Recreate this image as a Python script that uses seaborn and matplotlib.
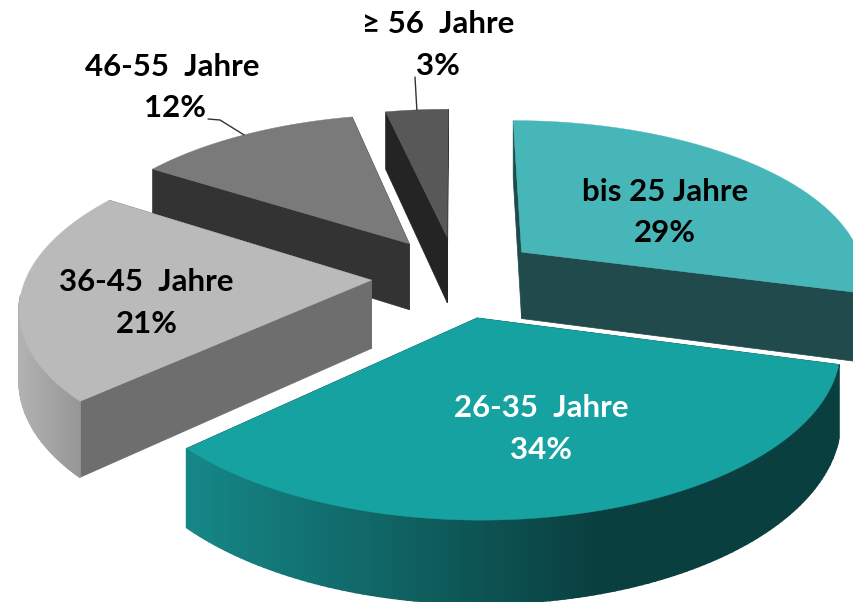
# Exploded 3D pie of age groups, seaborn theme with the projection done by hand.

import numpy as np
import matplotlib
matplotlib.use('Agg')
import matplotlib.pyplot as plt
import matplotlib.colors as mcolors
import seaborn as sns

categories = ['bis 25 Jahre', '26-35  Jahre', '36-45  Jahre', '46-55  Jahre', '≥ 56  Jahre']
# shares, the printed labels round them
values = [29.2, 33.8, 21.1, 12.4, 3.45]
top_colors = ['#47B6B9', '#17A2A2', '#BABABA', '#7A7A7A', '#585858']
side_colors = ['#204A4B', '#0B4444', '#6E6E6E', '#333333', '#242424']
wall_left = ['#204A4B', '#168888', '#B2B2B2', '#333333', '#242424']
wall_right = ['#204A4B', '#0A3F3F', '#8A8A8A', '#333333', '#242424']
text_colors = ['black', 'white', 'black', 'black', 'black']
label_xy = [(665, 192), (541, 408), (146, 282), (172, 67), (438, 24)]
pct_xy = [(665, 233), (541, 450), (147, 324), (175, 108), (438, 66)]

# projection settings, in pixels
CX, CY = 456, 276.5
RX, RY = 345, 158
PERSP = 0.15
HEIGHT = 68
EXPLODE_X = 0.245
EXPLODE_Y = 0.26
DRAW_ORDER = [4, 3, 0, 2, 1]


def project(x, y, z=0.0):
    w = 1 / (1 - PERSP * y)
    return CX + RX * x * w, CY + RY * y * w + HEIGHT * z * w


def slice_point(theta, mid, r=1.0, z=0.0):
    # theta runs clockwise from 12 o'clock, y points at the viewer
    x = r * np.sin(theta) + EXPLODE_X * np.sin(mid)
    y = -r * np.cos(theta) - EXPLODE_Y * np.cos(mid)
    return project(x, y, z)


def draw_slice(ax, i, start, end):
    mid = (start + end) / 2
    thetas = np.linspace(start, end, 120)
    top_x, top_y = slice_point(thetas, mid)
    low_x, low_y = slice_point(thetas, mid, z=1.0)
    apex = slice_point(0.0, mid, r=0.0)
    apex_low = slice_point(0.0, mid, r=0.0, z=1.0)

    # radial faces first, the wall and the top cover whatever should be hidden
    for k in (0, -1):
        ax.fill([apex[0], top_x[k], low_x[k], apex_low[0]],
                [apex[1], top_y[k], low_y[k], apex_low[1]],
                color=side_colors[i], lw=0.5)

    # outer wall, shaded left to right
    left = np.array(mcolors.to_rgb(wall_left[i]))
    right = np.array(mcolors.to_rgb(wall_right[i]))
    x0, x1 = top_x.min(), min(top_x.max(), 600)
    for k in range(len(thetas) - 1):
        if np.cos(thetas[k]) > -0.1 and np.cos(thetas[k + 1]) > -0.1:
            continue
        t = np.clip((top_x[k] - x0) / (x1 - x0), 0, 1)
        ax.fill([top_x[k], top_x[k + 1], low_x[k + 1], low_x[k]],
                [top_y[k], top_y[k + 1], low_y[k + 1], low_y[k]],
                color=left + (right - left) * t, lw=1.2)

    ax.fill(np.r_[apex[0], top_x], np.r_[apex[1], top_y], color=top_colors[i], lw=0.3)


sns.set_theme(style='white')
plt.rcParams['font.family'] = ['Lato', 'DejaVu Sans']

fig = plt.figure(figsize=(8.54, 6.02), dpi=100)
ax = fig.add_axes([0, 0, 1, 1])
ax.set_xlim(0, 854)
ax.set_ylim(602, 0)
ax.axis('off')

edges = np.r_[0, np.cumsum(values)] / np.sum(values) * 2 * np.pi
for i in DRAW_ORDER:
    draw_slice(ax, i, edges[i], edges[i + 1])

# leader lines for the two small slices
mid4 = (edges[3] + edges[4]) / 2
end4 = slice_point(mid4, mid4)
ax.plot([208, 220, end4[0]], [119, 120, end4[1]], color='#333333', lw=1)
mid5 = (edges[4] + edges[5]) / 2
end5 = slice_point(mid5, mid5)
ax.plot([415, end5[0]], [77, end5[1]], color='#333333', lw=1)

for i, name in enumerate(categories):
    ax.text(*label_xy[i], name, ha='center', va='center', fontsize=22.5,
            fontweight='bold', color=text_colors[i])
    ax.text(*pct_xy[i], f'{values[i]:.0f}%', ha='center', va='center', fontsize=22.5,
            fontweight='bold', color=text_colors[i])

fig.savefig('out.png', dpi=100)
